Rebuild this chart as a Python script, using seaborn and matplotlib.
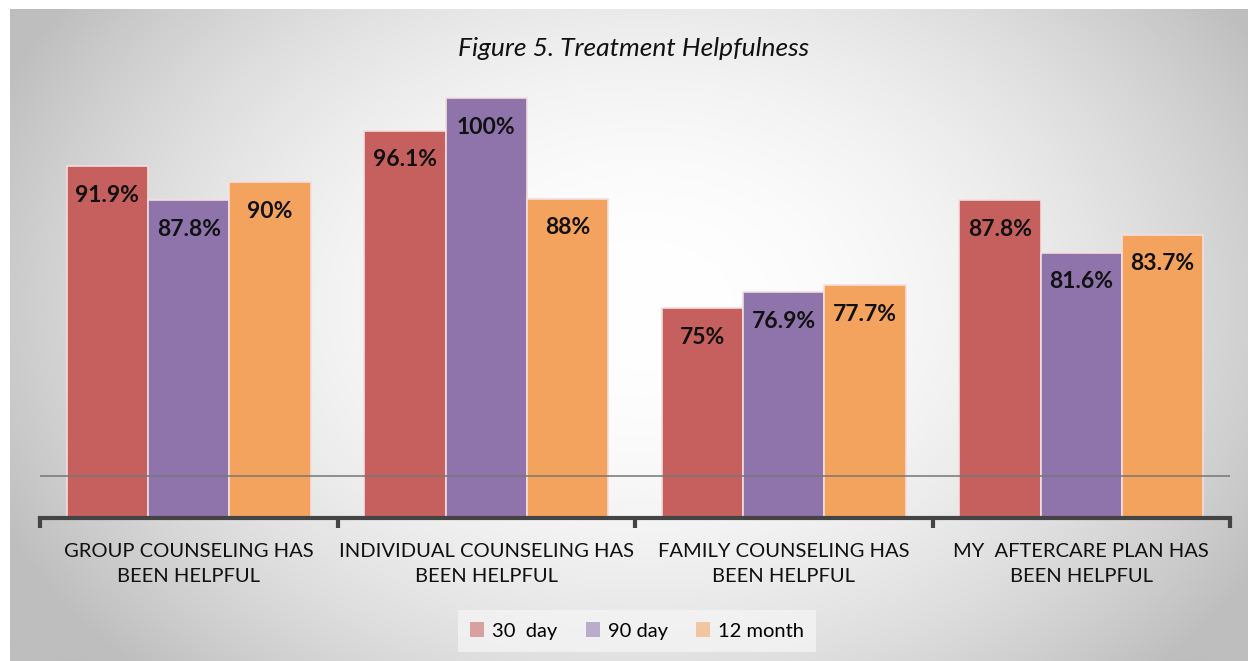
import numpy as np
import pandas as pd
import seaborn as sns
import matplotlib.pyplot as plt
from matplotlib.patches import Patch

categories = ['GROUP COUNSELING HAS\nBEEN HELPFUL',
              'INDIVIDUAL COUNSELING HAS\nBEEN HELPFUL',
              'FAMILY COUNSELING HAS\nBEEN HELPFUL',
              'MY  AFTERCARE PLAN HAS\nBEEN HELPFUL']
periods = ['30  day', '90 day', '12 month']
vals_30 = [91.9, 96.1, 75.0, 87.8]
vals_90 = [87.8, 100.0, 76.9, 81.6]
vals_12 = [90.0, 88.0, 77.7, 83.7]
labels_30 = ['91.9%', '96.1%', '75%', '87.8%']
labels_90 = ['87.8%', '100%', '76.9%', '81.6%']
labels_12 = ['90%', '88%', '77.7%', '83.7%']
colors = ['#C6605E', '#8F74AC', '#F4A35E']

df = pd.DataFrame({
    'categoria': categories * 3,
    'periodo': [p for p in periods for _ in categories],
    'valore': vals_30 + vals_90 + vals_12,
})

W, H = 1248, 661
fig = plt.figure(figsize=(W / 100, H / 100), dpi=100)
fig.patch.set_facecolor('white')

# sfondo con gradiente radiale
bg = fig.add_axes([10 / W, 0, 1 - 10 / W, 1 - 9 / H])
yy, xx = np.mgrid[0:H, 0:W]
r2 = ((xx - 640) / 700.0) ** 2 + ((yy - 300) / 520.0) ** 2
grigio = np.clip(255 - 62 * r2, 190, 255) / 255.0
bg.imshow(np.dstack([grigio, grigio, grigio]), aspect='auto', extent=[0, 1, 0, 1])
bg.axis('off')

ax = fig.add_axes([40 / W, (H - 518) / H, 1190 / W, (518 - 56) / H])
ax.set_facecolor('none')
sns.barplot(data=df, x='categoria', y='valore', hue='periodo', palette=colors,
            width=0.82, gap=0, ax=ax, saturation=1, legend=False,
            edgecolor='#f2dede', linewidth=1.2, zorder=2)
ax.set_ylim(50, 105)
ax.set_xlim(-0.5, 3.5)

# etichette dentro le barre
for cont, labs in zip(ax.containers, [labels_30, labels_90, labels_12]):
    for bar, lab in zip(cont, labs):
        ax.annotate(lab, (bar.get_x() + bar.get_width() / 2, bar.get_height()),
                    xytext=(0, -29), textcoords='offset pixels',
                    ha='center', va='center', fontsize=16.5, fontweight='bold',
                    family='Lato', color='#111111', zorder=4)

ax.axhline(55, color='#777777', linewidth=1.4, alpha=0.8, zorder=3)

for s in ['top', 'right', 'left']:
    ax.spines[s].set_visible(False)
ax.spines['bottom'].set_color('#444444')
ax.spines['bottom'].set_linewidth(3)
ax.set_yticks([])
ax.set_xticks([-0.5, 0.5, 1.5, 2.5, 3.5], minor=False)
ax.set_xticklabels([])
ax.tick_params(axis='x', which='major', length=7, width=3, color='#444444')
ax.set_xticks(range(4), minor=True)
ax.set_xticklabels(categories, minor=True, fontsize=14.5, family='Lato',
                   color='#111111', linespacing=1.6)
ax.tick_params(axis='x', which='minor', length=0, pad=18)
ax.set_xlabel('')
ax.set_ylabel('')

fig.text(634 / W, 1 - 48 / H, 'Figure 5. Treatment Helpfulness', ha='center', va='center',
         fontsize=19, style='italic', family='Lato', color='#111111')

handles = [Patch(facecolor=c, alpha=0.55, edgecolor='none') for c in colors]
leg = fig.legend(handles, periods, loc='center', bbox_to_anchor=(637 / W, 1 - 631 / H),
                 ncol=3, frameon=True, prop={'family': 'Lato', 'size': 14.5},
                 handlelength=0.7, handleheight=0.7, handletextpad=0.4, columnspacing=1.4,
                 borderpad=0.6, fancybox=False)
leg.get_frame().set_facecolor('#f4f4f4')
leg.get_frame().set_edgecolor('none')
leg.get_frame().set_alpha(0.8)

fig.savefig('out.png', dpi=100)
